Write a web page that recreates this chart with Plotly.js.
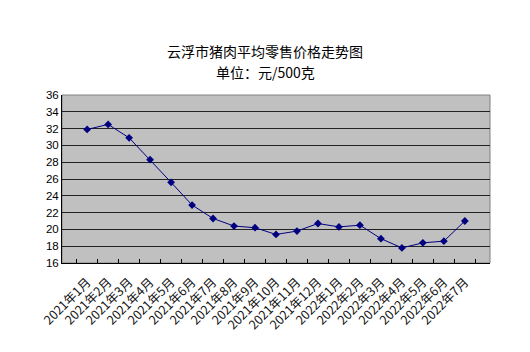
<!DOCTYPE html>
<html><head><meta charset="utf-8">
<script src="https://cdn.plot.ly/plotly-3.0.1.min.js"></script>
<style>body{margin:0;background:#fff}#c{width:530px;height:352px}</style>
</head><body><div id="c"></div>
<script>
const months = ["2021年1月","2021年2月","2021年3月","2021年4月","2021年5月","2021年6月","2021年7月","2021年8月","2021年9月","2021年10月","2021年11月","2021年12月","2022年1月","2022年2月","2022年3月","2022年4月","2022年5月","2022年6月","2022年7月"];
const prices = [31.9,32.5,30.9,28.3,25.6,22.9,21.3,20.4,20.2,19.4,19.8,20.7,20.3,20.5,18.9,17.8,18.4,18.6,21.0];
const yTicks = [16,18,20,22,24,26,28,30,32,34,36];
const titleLines = ['云浮市猪肉平均零售价格走势图', '单位：元/500克'];

Plotly.newPlot('c', [{
  x: months, y: prices, type: 'scatter', mode: 'lines+markers',
  line: {color: '#000080', width: 1},
  marker: {symbol: 'diamond', size: 6, color: '#000080'},
  hoverinfo: 'skip'
}], {
  width: 530, height: 352,
  margin: {l: 62, r: 40, t: 95, b: 89},
  paper_bgcolor: '#fff', plot_bgcolor: '#C0C0C0',
  showlegend: false,
  annotations: [
    {text: titleLines[0], xref: 'paper', yref: 'paper', x: 0.475, y: 1, yshift: 44, xanchor: 'center', yanchor: 'middle', showarrow: false,
     font: {family: 'Noto Sans CJK SC', size: 14, color: '#000'}},
    {text: titleLines[1], xref: 'paper', yref: 'paper', x: 0.475, y: 1, yshift: 23, xanchor: 'center', yanchor: 'middle', showarrow: false,
     font: {family: 'Noto Sans CJK SC', size: 14, color: '#000'}}
  ],
  xaxis: {type: 'category', tickson: 'boundaries', ticks: 'inside', ticklen: 4, tickcolor: '#000',
          showline: true, linecolor: '#000', linewidth: 1, showgrid: false, tickangle: -45,
          ticklabelstandoff: 6,
          tickfont: {family: 'Noto Sans CJK SC', size: 12.5, color: '#111'}, fixedrange: true},
  yaxis: {range: [16, 36], tickvals: yTicks, ticks: '', showline: true, linecolor: '#000', linewidth: 1,
          gridcolor: '#222', gridwidth: 1, zeroline: false,
          tickfont: {family: 'Liberation Sans, Arial', size: 11.5, color: '#000'}, fixedrange: true},
  shapes: [{type: 'rect', xref: 'paper', yref: 'paper', x0: 0, x1: 1, y0: 0, y1: 1,
            line: {color: '#808080', width: 1}, layer: 'below'}]
}, {staticPlot: true});
</script></body></html>
